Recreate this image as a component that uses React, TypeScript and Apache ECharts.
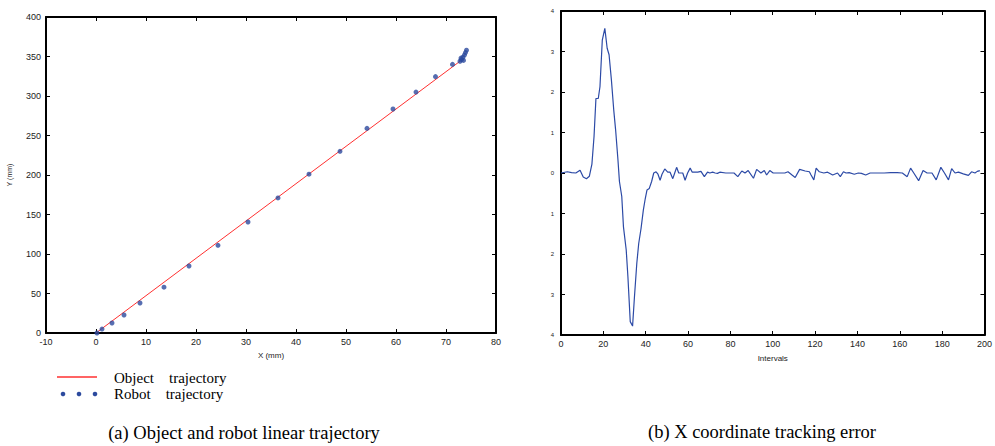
import React, { useEffect, useRef } from "react";
import * as echarts from "echarts";

// Left chart: object trajectory (straight line) and robot trajectory (dots), mm
const objectX = [0, 72.8];
const objectY = [0, 344];
const robotX = [0.2, 1.2, 3.2, 5.6, 8.8, 13.6, 18.6, 24.4, 30.4, 36.4, 42.6, 48.8, 54.2, 59.4, 64, 67.9, 71.3, 72.8, 73.1, 73.4, 73.7, 73.9, 74.1, 73.5, 73.0];
const robotY = [0, 5, 12.7, 22.8, 38, 58, 84.8, 111, 140.5, 171, 201, 230, 259, 283.5, 305, 324.5, 340, 344, 346, 349, 352, 355, 358, 345, 348];

// Right chart: X coordinate tracking error vs intervals
const errorIntervals = [0, 3, 5, 7, 9, 10.5, 12, 13.4, 14.6, 15.6, 16.5, 17.6, 18.4, 19.5, 20.7, 21.8, 22.7, 23.8, 24.9, 25.8, 26.9, 27.6, 28.7, 29.5, 30.8, 31.6, 32.7, 33.8, 34.7, 35.8, 36.7, 37.8, 38.9, 39.8, 40.6, 41.7, 42.8, 43.8, 44.9, 45.8, 46.8, 47.7, 49, 50.4, 51.5, 52.8, 53.7, 54.6, 55.6, 57.5, 58.6, 59.8, 61, 62, 64.6, 66.1, 67.7, 69.2, 70.3, 71.6, 72.8, 73.9, 75, 77.8, 81.7, 83.5, 85.4, 86.9, 88.4, 90.9, 92.4, 94.4, 96, 97.1, 98.6, 100.2, 105.7, 107.2, 109.1, 110.6, 112.7, 115.3, 117.3, 118.1, 119.4, 120.5, 122, 124.1, 125.9, 128.3, 130.6, 131.9, 133.4, 134.6, 136.1, 138.5, 140.4, 141.9, 143.9, 146, 151, 152.6, 155.7, 158.8, 161.2, 163.5, 165.1, 166.6, 168.9, 171, 172.9, 175.2, 177.2, 179.4, 181.1, 183, 184.5, 186.1, 187.7, 190, 192.4, 193.9, 195.5, 196.6, 197.8];
const errorValues = [0, 0.03, 0.01, 0, 0.07, -0.1, -0.14, -0.08, 0.22, 0.9, 1.84, 1.84, 2.13, 3.28, 3.57, 3.08, 2.92, 2.3, 1.56, 1.06, 0.32, -0.21, -0.58, -1.33, -1.9, -2.56, -3.67, -3.78, -3.05, -2.23, -1.74, -1.37, -0.91, -0.63, -0.42, -0.38, -0.21, 0, 0.03, -0.03, -0.18, -0.03, 0.1, 0.02, 0.02, -0.14, 0, 0.14, 0, 0, -0.18, 0, 0.12, 0.02, 0.02, 0.04, -0.09, 0.02, 0, 0.02, 0, -0.01, 0.02, 0, 0, -0.09, 0.05, 0, 0.06, -0.13, 0.09, 0, 0.06, -0.05, 0.06, 0, 0, 0.03, -0.05, -0.11, 0.09, 0.05, 0.03, -0.05, -0.17, 0.12, 0.03, 0, 0.02, -0.05, 0, -0.09, 0.03, 0, 0.01, -0.03, 0, -0.01, -0.05, 0, 0, 0, 0.01, 0.01, 0, -0.09, 0.12, 0, -0.19, 0.06, 0, 0, -0.17, 0.14, 0, -0.17, 0.11, 0, 0.02, -0.02, -0.06, 0.03, 0, 0.04, 0.06];

const legendLabels = ["Object    trajectory", "Robot    trajectory"];
const captions = ["(a) Object and robot linear trajectory", "(b) X coordinate tracking error"];

const zip = (a: number[], b: number[]) => a.map((v, i) => [v, b[i]]);

export default function App() {
  const ref = useRef<HTMLDivElement>(null);
  useEffect(() => {
    if (!ref.current) return;
    const chart = echarts.init(ref.current, null, { renderer: "svg" });
    const axisLine = { show: true, onZero: false, lineStyle: { color: "#000", width: 2 } };
    const tick = { show: true, inside: true, length: 4, lineStyle: { color: "#000", width: 1 } };
    const lbl = { color: "#222", fontSize: 9, fontFamily: "Liberation Sans, Arial, sans-serif" };
    const serif = "Liberation Serif, Times New Roman, serif";
    const option: any = {
      animation: false,
      backgroundColor: "#fff",
      grid: [
        { left: 46, top: 17, width: 450, height: 316 },
        { left: 561, top: 11, width: 427, height: 324 },
      ],
      xAxis: [
        { type: "value", gridIndex: 0, position: "bottom", min: -10, max: 80, interval: 10, axisLine, axisTick: tick, splitLine: { show: false }, axisLabel: { ...lbl, margin: 4 }, name: "X (mm)", nameLocation: "middle", nameGap: 18, nameTextStyle: { ...lbl, fontSize: 8 } },
        { type: "value", gridIndex: 0, position: "top", min: -10, max: 80, interval: 10, axisLine, axisTick: tick, splitLine: { show: false }, axisLabel: { show: false } },
        { type: "value", gridIndex: 1, position: "bottom", min: 0, max: 200, interval: 20, axisLine, axisTick: tick, splitLine: { show: false }, axisLabel: { ...lbl, margin: 4 }, name: "Intervals", nameLocation: "middle", nameGap: 19, nameTextStyle: { ...lbl, fontSize: 8 } },
        { type: "value", gridIndex: 1, position: "top", min: 0, max: 200, interval: 20, axisLine, axisTick: tick, splitLine: { show: false }, axisLabel: { show: false } },
      ],
      yAxis: [
        { type: "value", gridIndex: 0, position: "left", min: 0, max: 400, interval: 50, axisLine, axisTick: tick, splitLine: { show: false }, axisLabel: { ...lbl, margin: 5 }, name: "Y (mm)", nameLocation: "middle", nameRotate: 90, nameGap: 33, nameTextStyle: { ...lbl, fontSize: 7 } },
        { type: "value", gridIndex: 0, position: "right", min: 0, max: 400, interval: 50, axisLine, axisTick: tick, splitLine: { show: false }, axisLabel: { show: false } },
        { type: "value", gridIndex: 1, position: "left", min: -4, max: 4, interval: 1, axisLine, axisTick: tick, splitLine: { show: false }, axisLabel: { ...lbl, fontSize: 6, margin: 7, formatter: (v: number) => String(Math.abs(v)) } },
        { type: "value", gridIndex: 1, position: "right", min: -4, max: 4, interval: 1, axisLine, axisTick: tick, splitLine: { show: false }, axisLabel: { show: false } },
      ],
      series: [
        { type: "line", name: "Object trajectory", xAxisIndex: 0, yAxisIndex: 0, data: zip(objectX, objectY), symbol: "none", lineStyle: { color: "#ff3030", width: 1 }, z: 2 },
        { type: "scatter", name: "Robot trajectory", xAxisIndex: 0, yAxisIndex: 0, data: zip(robotX, robotY), symbolSize: 5, itemStyle: { color: "#2c4a9e" }, z: 3 },
        { type: "line", name: "Error", xAxisIndex: 2, yAxisIndex: 2, data: zip(errorIntervals, errorValues), symbol: "none", lineStyle: { color: "#2c4aa6", width: 1.2 } },
      ],
      graphic: [
        { type: "line", shape: { x1: 57, y1: 377, x2: 97, y2: 377 }, style: { stroke: "#ff3030", lineWidth: 1.5 } },
        { type: "circle", shape: { cx: 63, cy: 394, r: 2.3 }, style: { fill: "#2c4a9e" } },
        { type: "circle", shape: { cx: 79, cy: 394, r: 2.3 }, style: { fill: "#2c4a9e" } },
        { type: "circle", shape: { cx: 95, cy: 394, r: 2.3 }, style: { fill: "#2c4a9e" } },
        { type: "text", x: 114, y: 378, style: { text: legendLabels[0], font: `15px ${serif}`, fill: "#000", textVerticalAlign: "middle" } },
        { type: "text", x: 114, y: 394, style: { text: legendLabels[1], font: `15px ${serif}`, fill: "#000", textVerticalAlign: "middle" } },
        { type: "text", x: 244, y: 433, style: { text: captions[0], font: `18.5px ${serif}`, fill: "#000", textAlign: "center", textVerticalAlign: "middle" } },
        { type: "text", x: 762, y: 432, style: { text: captions[1], font: `18.5px ${serif}`, fill: "#000", textAlign: "center", textVerticalAlign: "middle" } },
      ],
    };
    chart.setOption(option);
    return () => chart.dispose();
  }, []);
  return <div ref={ref} style={{ position: "fixed", left: 0, top: 0, width: 995, height: 446 }} />;
}
